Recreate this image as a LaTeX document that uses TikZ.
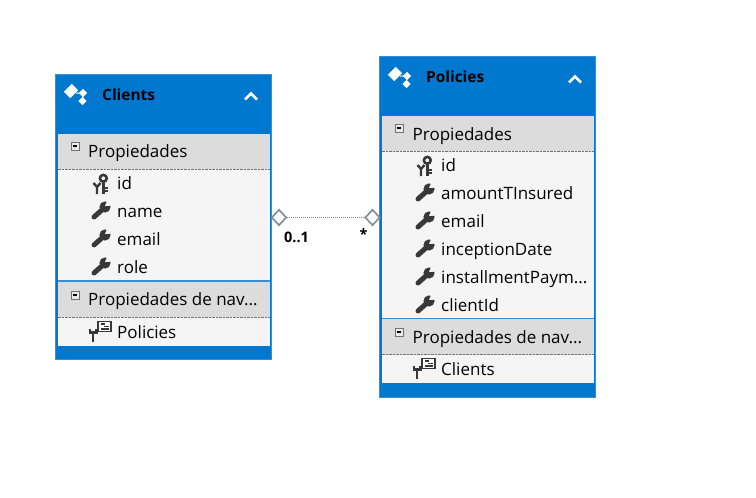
\documentclass[tikz,border=0pt]{standalone}
\usepackage{fontspec}
\setmainfont{Open Sans}
\usetikzlibrary{shapes.geometric}

\definecolor{entityblue}{RGB}{0, 120, 208}
\definecolor{edgeblue}{RGB}{52, 143, 214}
\definecolor{headgray}{RGB}{220, 220, 220}
\definecolor{rowgray}{RGB}{245, 245, 245}
\definecolor{icongray}{RGB}{56, 56, 56}
\definecolor{linkgray}{RGB}{125, 140, 155}

\tikzset{
	title/.style={anchor=base west, inner sep=0pt, font=\bfseries\fontsize{15.4}{16}\selectfont, text=black},
	section/.style={anchor=base west, inner sep=0pt, font=\fontsize{17}{18}\selectfont, text=black},
	prop/.style={anchor=base west, inner sep=0pt, font=\fontsize{17}{18}\selectfont, text=black},
	mult/.style={inner sep=0pt, font=\bfseries\fontsize{14.5}{15}\selectfont, text=black},
	end/.style={diamond, draw=linkgray, fill=white, line width=1.6pt, inner sep=0pt, minimum width=15pt, minimum height=16pt},
	wrench/.pic={
		\draw[icongray, line width=5pt, line cap=round] (-6,5) -- (3,-3);
		\fill[icongray] (5,-5) circle (5.6);
		\fill[rowgray] (5,-6) -- (7.5,-12) -- (13,-11) -- (13,-6.5) -- cycle;
	},
	keys/.pic={
		\draw[icongray, line width=2.6pt] (3.3,-5.7) circle (3.4);
		\draw[icongray, line width=3pt] (3.3,-2.5) -- (3.3,9.5);
		\draw[icongray, line width=2pt] (3.3,3.5) -- (8,3.5) (3.3,7) -- (8,7);
		\draw[icongray, line width=2.4pt] (-6.5,-1) -- (-3,3) -- (0.5,-1) (-3,3) -- (-3,10);
	},
	nav/.pic={
		\draw[icongray, fill=white, line width=1.4pt] (-1,-11.5) rectangle (12,-1.5);
		\draw[icongray, line width=1.2pt] (2,-9) -- (6,-9) (5,-6.5) -- (10,-6.5) (2,-4) -- (10,-4);
		\draw[icongray, line width=2.2pt] (-9,-4) -- (-9,-0.5) -- (-2.5,-0.5) -- (-2.5,-4) (-5.7,-0.5) -- (-5.7,9);
	},
	entity/.pic={
		\fill[white, shift={(-6,-3)}, rotate=45] (-5.5,-4.5) rectangle (5.5,4.5);
		\fill[white, shift={(6,-1)}, rotate=45] (-3,-3) rectangle (3,3);
		\fill[white, shift={(5.5,7)}, rotate=45] (-3,-3) rectangle (3,3);
		\draw[white, line width=1pt] (-1,-1) -- (6,-1) -- (5.5,7);
	},
	collapse/.pic={
		\draw[black!55, fill=white!92!black, line width=.8pt] (-4,-4) rectangle (4,4);
		\draw[black, line width=1.1pt] (-2.2,0) -- (2.2,0);
	},
	chevron/.pic={
		\draw[white, line width=2.6pt] (-6,3.5) -- (0,-2.5) -- (6,3.5);
	}
}

\begin{document}
\begin{tikzpicture}[x=1pt, y=-1pt]
	\useasboundingbox (0,0) rectangle (756,498);
	\fill[white] (0,0) rectangle (756,498);

	% --- Clients ---
	\fill[entityblue] (55.5,74.5) rectangle (271.5,359.5);
	\draw[edgeblue, line width=1pt] (55.5,74.5) rectangle (271.5,359.5);
	\fill[headgray] (57.5,133.5) rectangle (269.5,169);
	\fill[rowgray] (57.5,169) rectangle (269.5,280);
	\fill[headgray] (57.5,282) rectangle (269.5,317);
	\fill[rowgray] (57.5,317) rectangle (269.5,345.5);
	\draw[edgeblue, line width=1.6pt] (57.5,281) -- (269.5,281);
	\draw[black!55, densely dotted] (57.5,169) -- (269.5,169);
	\draw[black!55, densely dotted] (57.5,317) -- (269.5,317);

	\pic at (77,94) {entity};
	\pic at (251,96) {chevron};
	\pic at (75,146) {collapse};
	\pic at (75,295) {collapse};
	\pic at (100,184) {keys};
	\pic at (100,212) {wrench};
	\pic at (100,240) {wrench};
	\pic at (100,268) {wrench};
	\pic at (99,333) {nav};

	\node[title] (clientsname) at (102,100) {Clients};
	\node[section] (clientsprops) at (88,157.5) {Propiedades};
	\node[prop] (clientsid) at (117,189.5) {id};
	\node[prop] (clientsnm) at (117,217.5) {name};
	\node[prop] (clientsemail) at (117,245.5) {email};
	\node[prop] (clientsrole) at (117,273.5) {role};
	\node[section] (clientsnav) at (88,305) {Propiedades de nav...};
	\node[prop] (clientspolicies) at (117,338.5) {Policies};

	% --- Policies ---
	\fill[entityblue] (379.5,56.5) rectangle (595.5,397.5);
	\draw[edgeblue, line width=1pt] (379.5,56.5) rectangle (595.5,397.5);
	\fill[headgray] (381.5,115.5) rectangle (593.5,151);
	\fill[rowgray] (381.5,151) rectangle (593.5,318);
	\fill[headgray] (381.5,319) rectangle (593.5,354.5);
	\fill[rowgray] (381.5,354.5) rectangle (593.5,382.5);
	\draw[edgeblue, line width=1.6pt] (381.5,318.5) -- (593.5,318.5);
	\draw[black!55, densely dotted] (381.5,151) -- (593.5,151);
	\draw[black!55, densely dotted] (381.5,354.5) -- (593.5,354.5);

	\pic at (401,77) {entity};
	\pic at (575,79) {chevron};
	\pic at (399,128) {collapse};
	\pic at (399,332) {collapse};
	\pic at (424,166) {keys};
	\pic at (424,194) {wrench};
	\pic at (424,222) {wrench};
	\pic at (424,250) {wrench};
	\pic at (424,278) {wrench};
	\pic at (424,306) {wrench};
	\pic at (423,370) {nav};

	\node[title] (policiesname) at (426,82) {Policies};
	\node[section] (policiesprops) at (412.5,140) {Propiedades};
	\node[prop] (policiesid) at (441,171.5) {id};
	\node[prop] (policiesamount) at (441,199.5) {amountTInsured};
	\node[prop] (policiesemail) at (441,227.5) {email};
	\node[prop] (policiesdate) at (441,255.5) {inceptionDate};
	\node[prop] (policiespay) at (441,283.5) {installmentPaym...};
	\node[prop] (policiesclient) at (441,311.5) {clientId};
	\node[section] (policiesnav) at (412.5,343) {Propiedades de nav...};
	\node[prop] (policiesclients) at (441,375.5) {Clients};

	% --- Association ---
	\node[end] (clientsend) at (279,217.5) {};
	\node[end] (policiesend) at (372.5,217.5) {};
	\draw[linkgray, densely dotted, line width=1pt] (clientsend) -- (policiesend);
	\node[mult] (clientsmult) at (296.5,237) {0..1};
	\node[mult] (policiesmult) at (363.5,234) {*};
\end{tikzpicture}
\end{document}
